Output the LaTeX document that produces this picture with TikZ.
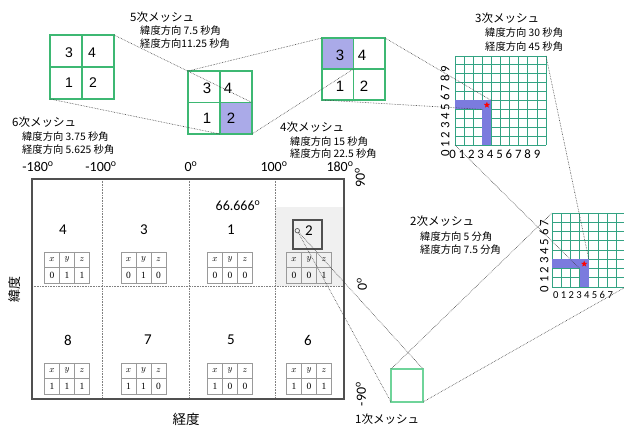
\documentclass[tikz,border=0pt]{standalone}
\usepackage{fontspec}
\setmainfont{Carlito}
\newfontfamily\jp{Noto Sans CJK JP}
\newfontfamily\arialf{Liberation Sans}
\newfontfamily\serifd{Liberation Serif}
\usetikzlibrary{shapes.geometric}
\definecolor{meshgreen}{HTML}{3DB873}
\definecolor{lightmesh}{HTML}{6FD49A}
\definecolor{gridteal}{HTML}{33A383}
\definecolor{hlpurple}{HTML}{AAAAE8}
\definecolor{barblue}{HTML}{7B7BDE}
\definecolor{framegray}{HTML}{505050}
\definecolor{tablegray}{HTML}{9A9A9A}
\definecolor{shadegray}{HTML}{F0F0F0}
\newcommand\xyzt[6]{%
  \node[tblbox, anchor=north west] (#1) at (#2,#3) {};
  \draw[tblline] (#1.west) -- (#1.east);
  \draw[tblline] (#2+15,#3) -- (#2+15,#3+31);
  \draw[tblline] (#2+30,#3) -- (#2+30,#3+31);
  \node[hd] (#1x) at (#2+7.5,#3+7.75) {$x$};
  \node[hd] (#1y) at (#2+22.5,#3+7.75) {$y$};
  \node[hd] (#1z) at (#2+37.5,#3+7.75) {$z$};
  \node[vl] (#1a) at (#2+7.5,#3+23.25) {#4};
  \node[vl] (#1b) at (#2+22.5,#3+23.25) {#5};
  \node[vl] (#1c) at (#2+37.5,#3+23.25) {#6};
}
\begin{document}
\begin{tikzpicture}[x=1pt,y=-1pt,
  title/.style={font=\jp\fontsize{11.5}{12}\selectfont, anchor=west, inner sep=0},
  sub/.style={font=\jp\fontsize{10.3}{11}\selectfont, anchor=west, inner sep=0},
  deg/.style={font=\fontsize{14}{14}\selectfont, inner sep=0},
  cellnum/.style={font=\fontsize{15}{15}\selectfont, inner sep=0},
  meshnum/.style={font=\arialf\fontsize{15}{15}\selectfont, inner sep=0},
  link/.style={densely dotted, line width=0.6pt, black!75},
  sep/.style={densely dotted, gray, line width=0.6pt},
  tblbox/.style={draw=tablegray, line width=0.6pt, minimum width=45pt, minimum height=31pt, inner sep=0, outer sep=0},
  tblline/.style={draw=tablegray, line width=0.6pt},
  hd/.style={font=\fontsize{9}{9}\selectfont, inner sep=0},
  vl/.style={font=\serifd\fontsize{9.5}{10}\selectfont, inner sep=0},
  meshline/.style={draw=meshgreen, line width=1.1pt},
  gridline/.style={draw=gridteal, line width=0.8pt},
  axlab/.style={font=\fontsize{12.8}{13}\selectfont, inner sep=0},
  plain/.style={inner sep=0, outer sep=0}
]
\useasboundingbox (0,0) rectangle (624,427);

% ---------- main map ----------
\fill[shadegray] (275,207) rectangle (344,286);
\draw[sep] (102,179) -- (102,399);
\draw[sep] (189,179) -- (189,399);
\draw[sep] (275,179) -- (275,399);
\draw[sep] (32,286) -- (344,286);
\node[plain, draw=framegray, line width=1.5pt, minimum width=312pt, minimum height=220pt, anchor=north west] (map) at (32,179) {};

\node[deg] (lm180) at (38,167) {-180\textsuperscript{o}};
\node[deg] (lm100) at (101,167) {-100\textsuperscript{o}};
\node[deg] (l0) at (191,167) {0\textsuperscript{o}};
\node[deg] (l100) at (274,167) {100\textsuperscript{o}};
\node[deg] (l180) at (340,167) {180\textsuperscript{o}};
\node[deg, rotate=90] (r90) at (360,178) {90\textsuperscript{o}};
\node[deg, rotate=90] (r0) at (362,284) {0\textsuperscript{o}};
\node[deg, rotate=90] (rm90) at (361,394) {-90\textsuperscript{o}};
\node[deg] (lat) at (238,206) {66.666\textsuperscript{o}};
\node[font=\jp\fontsize{13}{13}\selectfont, rotate=90, inner sep=0] (ido) at (15,290) {緯度};
\node[font=\jp\fontsize{13.5}{14}\selectfont, inner sep=0] (keido) at (186,419) {経度};

\node[cellnum] (c4) at (63,230) {4};
\node[cellnum] (c3) at (144,230) {3};
\node[cellnum] (c1) at (231,230) {1};
\node[cellnum] (c8) at (68,340) {8};
\node[cellnum] (c7) at (148,340) {7};
\node[cellnum] (c5) at (231,340) {5};
\node[cellnum] (c6) at (308,340) {6};

\node[plain, draw=framegray, line width=1.1pt, minimum width=29pt, minimum height=29pt, anchor=north west] (sq) at (293,220) {};
\node[cellnum] (c2) at (309,231) {2};
\node[circle, draw=framegray, line width=0.6pt, inner sep=0, minimum size=4.5pt] (pt) at (297.3,230.7) {};

\xyzt{ta}{44.5}{252}{0}{1}{1}
\xyzt{tb}{121}{252}{0}{1}{0}
\xyzt{tc}{207.5}{252}{0}{0}{0}
\xyzt{td}{286.5}{252}{0}{0}{1}
\xyzt{te}{44.5}{363}{1}{1}{1}
\xyzt{tf}{121}{363}{1}{1}{0}
\xyzt{tg}{207.5}{363}{1}{0}{0}
\xyzt{th}{286.5}{363}{1}{0}{1}

% ---------- 1st mesh ----------
\node[plain, draw=lightmesh, line width=1.1pt, minimum width=32pt, minimum height=33pt, anchor=north west] (m1) at (391,369) {};
\node[title] (t1) at (355,419) {1次メッシュ};

% ---------- 2nd mesh ----------
\node[plain, minimum width=73.6pt, minimum height=74pt, anchor=north west] (m2) at (552,213) {};
\foreach \i in {0,...,8} {
  \draw[gridline] (552+\i*9.2,213) -- (552+\i*9.2,287);
  \draw[gridline] (552,213+\i*9.25) -- (625.6,213+\i*9.25);
}
\fill[barblue] (552,259.25) rectangle (588.8,268.5);
\fill[barblue] (579.6,259.25) rectangle (588.8,287);
\coordinate (s2tr) at (588.8,259.25);
\coordinate (s2bl) at (579.6,268.5);
\node[star, star points=5, star point ratio=2.3, fill=red, inner sep=0, minimum size=6.5pt] (st2) at (584.2,263.9) {};
\node[font=\fontsize{10.6}{11}\selectfont, inner sep=0] (x2) at (583,295) {0 1 2 3 4 5 6 7};
\node[axlab, rotate=90] (y2) at (544,256) {0 1 2 3 4 5 6 7};
\node[title] (t2) at (410,221) {2次メッシュ};
\node[sub] (t2a) at (420,237) {緯度方向 5 分角};
\node[sub] (t2b) at (420,250) {経度方向 7.5 分角};

% ---------- 3rd mesh ----------
\node[plain, minimum width=91pt, minimum height=89pt, anchor=north west] (m3) at (455,56) {};
\foreach \i in {0,...,10} {
  \draw[gridline] (455+\i*9.1,56) -- (455+\i*9.1,145);
  \draw[gridline] (455,56+\i*8.9) -- (546,56+\i*8.9);
}
\fill[barblue] (455,100.5) rectangle (491.4,109.4);
\fill[barblue] (482.3,100.5) rectangle (491.4,145);
\coordinate (s3tr) at (491.4,100.5);
\coordinate (s3bl) at (482.3,109.4);
\node[star, star points=5, star point ratio=2.3, fill=red, inner sep=0, minimum size=6.5pt] (st3) at (486.9,105) {};
\node[axlab] (x3) at (494.8,154) {0 1 2 3 4 5 6 7 8 9};
\node[axlab, rotate=90] (y3) at (445,111.5) {0 1 2 3 4 5 6 7 8 9};
\node[title] (t3) at (475,18) {3次メッシュ};
\node[sub] (t3a) at (485,33) {緯度方向 30 秒角};
\node[sub] (t3b) at (485,47) {経度方向 45 秒角};

% ---------- 4th mesh ----------
\node[plain, minimum width=63pt, minimum height=62pt, anchor=north west] (m4) at (322,38) {};
\fill[hlpurple] (m4.north west) rectangle (m4.center);
\draw[meshline] (m4.north west) rectangle (m4.south east);
\draw[meshline] (m4.north) -- (m4.south);
\draw[meshline] (m4.west) -- (m4.east);
\node[meshnum] (n43) at (340,55) {3};
\node[meshnum] (n44) at (362,55) {4};
\node[meshnum] (n41) at (340,86) {1};
\node[meshnum] (n42) at (364,86) {2};
\node[title] (t4) at (280,127) {4次メッシュ};
\node[sub] (t4a) at (290,142) {緯度方向 15 秒角};
\node[sub] (t4b) at (290,154) {経度方向 22.5 秒角};

% ---------- 5th mesh ----------
\node[plain, minimum width=64pt, minimum height=63pt, anchor=north west] (m5) at (188,71) {};
\fill[hlpurple] (m5.center) rectangle (m5.south east);
\draw[meshline] (m5.north west) rectangle (m5.south east);
\draw[meshline] (m5.north) -- (m5.south);
\draw[meshline] (m5.west) -- (m5.east);
\node[meshnum] (n53) at (207,88) {3};
\node[meshnum] (n54) at (228,88) {4};
\node[meshnum] (n51) at (207,118) {1};
\node[meshnum] (n52) at (231,118) {2};
\node[title] (t5) at (130,17) {5次メッシュ};
\node[sub] (t5a) at (140,31) {緯度方向 7.5 秒角};
\node[sub] (t5b) at (140,44) {経度方向11.25 秒角};

% ---------- 6th mesh ----------
\node[plain, minimum width=64pt, minimum height=64pt, anchor=north west] (m6) at (50,35) {};
\draw[meshline] (m6.north west) rectangle (m6.south east);
\draw[meshline] (m6.north) -- (m6.south);
\draw[meshline] (m6.west) -- (m6.east);
\node[meshnum, font=\arialf\fontsize{14}{14}\selectfont] (n63) at (69,53) {3};
\node[meshnum, font=\arialf\fontsize{14}{14}\selectfont] (n64) at (92,53) {4};
\node[meshnum, font=\arialf\fontsize{14}{14}\selectfont] (n61) at (69,83) {1};
\node[meshnum, font=\arialf\fontsize{14}{14}\selectfont] (n62) at (93,83) {2};
\node[title] (t6) at (12,122) {6次メッシュ};
\node[sub] (t6a) at (22,137) {緯度方向 3.75 秒角};
\node[sub] (t6b) at (22,150) {経度方向 5.625 秒角};

% ---------- connectors ----------
\draw[link] (m6.north east) -- (m5.east);
\draw[link] (m6.south west) -- (m5.south);
\draw[link] (m5.north west) -- (m4.north west);
\draw[link] (m5.south east) -- (m4.center);
\draw[link] (m4.north east) -- (s3tr);
\draw[link] (m4.south west) -- (s3bl);
\draw[link] (m3.north east) -- (s2tr);
\draw[link] (m3.south west) -- (s2bl);
\draw[link] (m1.north west) -- (m2.north west);
\draw[link] (m1.south east) -- (m2.south east);
\draw[link] (pt) -- (m1.south west);
\draw[link] (pt) -- (m1.north east);
\end{tikzpicture}
\end{document}
